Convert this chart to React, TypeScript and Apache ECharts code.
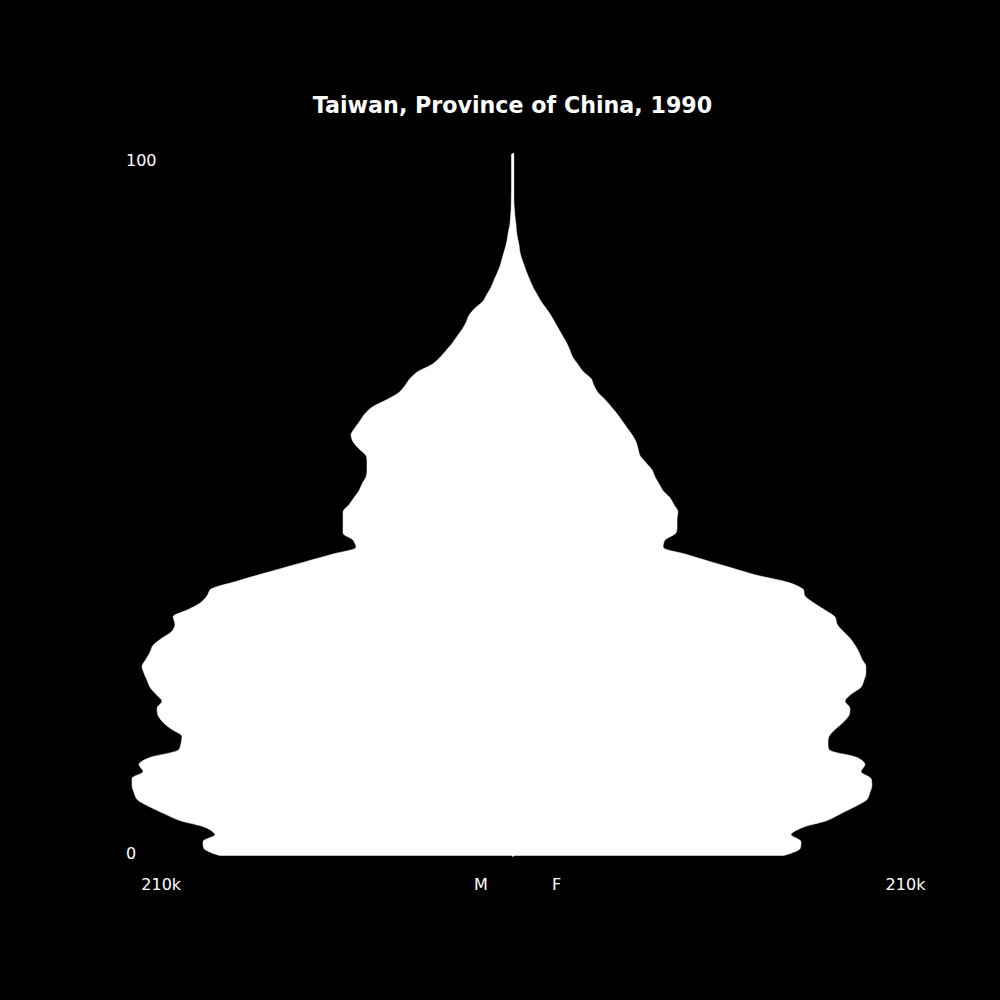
import { useEffect, useRef } from "react";
import * as echarts from "echarts";

// ages 0..100 (bottom to top)
const ages = Array.from({ length: 101 }, (_, i) => String(i));

// population in thousands
const male = [
  161.2, 170.0, 170.6, 164.0, 168.9, 183.3, 192.1, 200.3, 206.9, 208.6,
  209.7, 209.7, 203.6, 205.9, 199.8, 184.4, 182.7, 182.2, 187.7, 192.6,
  195.4, 195.9, 193.2, 196.5, 199.8, 201.4, 203.1, 204.2, 202.0, 199.8,
  198.1, 193.2, 187.7, 186.0, 187.1, 179.4, 172.2, 168.4, 166.2, 153.5,
  140.3, 126.5, 112.7, 98.9, 86.2, 87.9, 93.4, 93.4, 93.4, 93.4,
  90.1, 87.4, 84.6, 82.9, 80.7, 80.2, 80.2, 80.7, 84.6, 87.9,
  89.0, 86.8, 84.0, 81.3, 76.9, 69.2, 62.6, 59.2, 56.5, 52.1,
  44.4, 40.0, 36.6, 33.3, 30.6, 27.8, 25.6, 24.0, 20.7, 16.3,
  14.1, 11.8, 10.2, 8.5, 6.9, 5.8, 4.7, 3.6, 2.8, 2.2,
  1.4, 1.1, 0.8, 0.7, 0.66, 0.6, 0.6, 0.6, 0.6, 0.6, 0.6,
];

const female = [
  149.1, 158.5, 159.0, 153.5, 159.6, 173.3, 181.1, 188.8, 195.4, 197.0,
  198.1, 197.6, 192.1, 194.3, 189.9, 175.0, 173.9, 174.4, 177.8, 182.2,
  185.5, 186.0, 183.3, 186.6, 192.1, 193.7, 194.8, 194.8, 192.6, 191.0,
  188.8, 186.0, 182.2, 178.9, 177.8, 172.2, 166.2, 161.2, 160.1, 151.3,
  134.2, 121.0, 107.8, 95.1, 83.0, 84.1, 90.1, 90.7, 90.7, 91.2,
  89.0, 86.8, 83.0, 80.7, 78.5, 76.9, 73.6, 70.3, 69.2, 68.1,
  65.9, 63.1, 60.4, 57.6, 54.3, 51.0, 47.1, 44.9, 43.3, 38.9,
  36.1, 33.3, 31.7, 30.0, 27.8, 25.6, 23.4, 21.2, 18.5, 15.7,
  13.5, 11.3, 9.6, 8.0, 6.6, 5.2, 4.1, 3.6, 2.8, 2.2,
  1.9, 1.4, 1.1, 0.8, 0.7, 0.7, 0.7, 0.7, 0.7, 0.7, 0.7,
];

const titleText = "Taiwan, Province of China, 1990";
const ageLabels = ["100", "0"];
const bottomLabels = ["210k", "M", "F", "210k"];
const xMax = 210000;

const App = () => {
  const chartRef = useRef(null);

  useEffect(() => {
    document.body.style.margin = "0";
    const chart = echarts.init(chartRef.current, null, { renderer: "svg" });
    const font = "DejaVu Sans";

    const txt = (text, x, y, align, size = 16, weight = "normal") => ({
      type: "text",
      x,
      y,
      style: {
        text,
        fill: "#fff",
        fontSize: size,
        fontWeight: weight,
        fontFamily: font,
        align,
        verticalAlign: "middle",
      },
    });

    const area = (name, values, sign) => ({
      name,
      type: "line",
      data: values.map((v) => sign * v * 1000),
      showSymbol: false,
      smooth: 0.3,
      lineStyle: { color: "#fff", width: 0.5 },
      areaStyle: { color: "#fff", opacity: 1 },
      itemStyle: { color: "#fff" },
    });

    const option: any = {
      animation: false,
      backgroundColor: "#000",
      grid: { left: 131.5, right: 106.5, top: 154, bottom: 144.3 },
      xAxis: {
        type: "value",
        min: -xMax,
        max: xMax,
        axisLine: { show: false },
        axisTick: { show: false },
        axisLabel: { show: false },
        splitLine: { show: false },
      },
      yAxis: {
        type: "category",
        boundaryGap: false,
        data: ages,
        z: 3,
        // white centre line hides the seam between the two halves
        axisLine: { show: true, onZero: true, lineStyle: { color: "#fff", width: 2 } },
        axisTick: { show: false },
        axisLabel: { show: false },
        splitLine: { show: false },
      },
      series: [area("M", male, -1), area("F", female, 1)],
      graphic: [
        txt(titleText, 512.5, 104.5, "center", 22.2, "bold"),
        txt(ageLabels[0], 126, 160.4, "left"),
        txt(ageLabels[1], 126, 853.4, "left"),
        txt(bottomLabels[0], 161.2, 884.4, "center"),
        txt(bottomLabels[1], 481, 884.4, "center"),
        txt(bottomLabels[2], 556.7, 884.4, "center"),
        txt(bottomLabels[3], 905.5, 884.4, "center"),
      ],
    };

    chart.setOption(option);

    return () => {
      chart.dispose();
    };
  }, []);

  return (
    <div
      ref={chartRef}
      style={{ width: "1000px", height: "1000px", background: "#000" }}
    />
  );
};

export default App;
